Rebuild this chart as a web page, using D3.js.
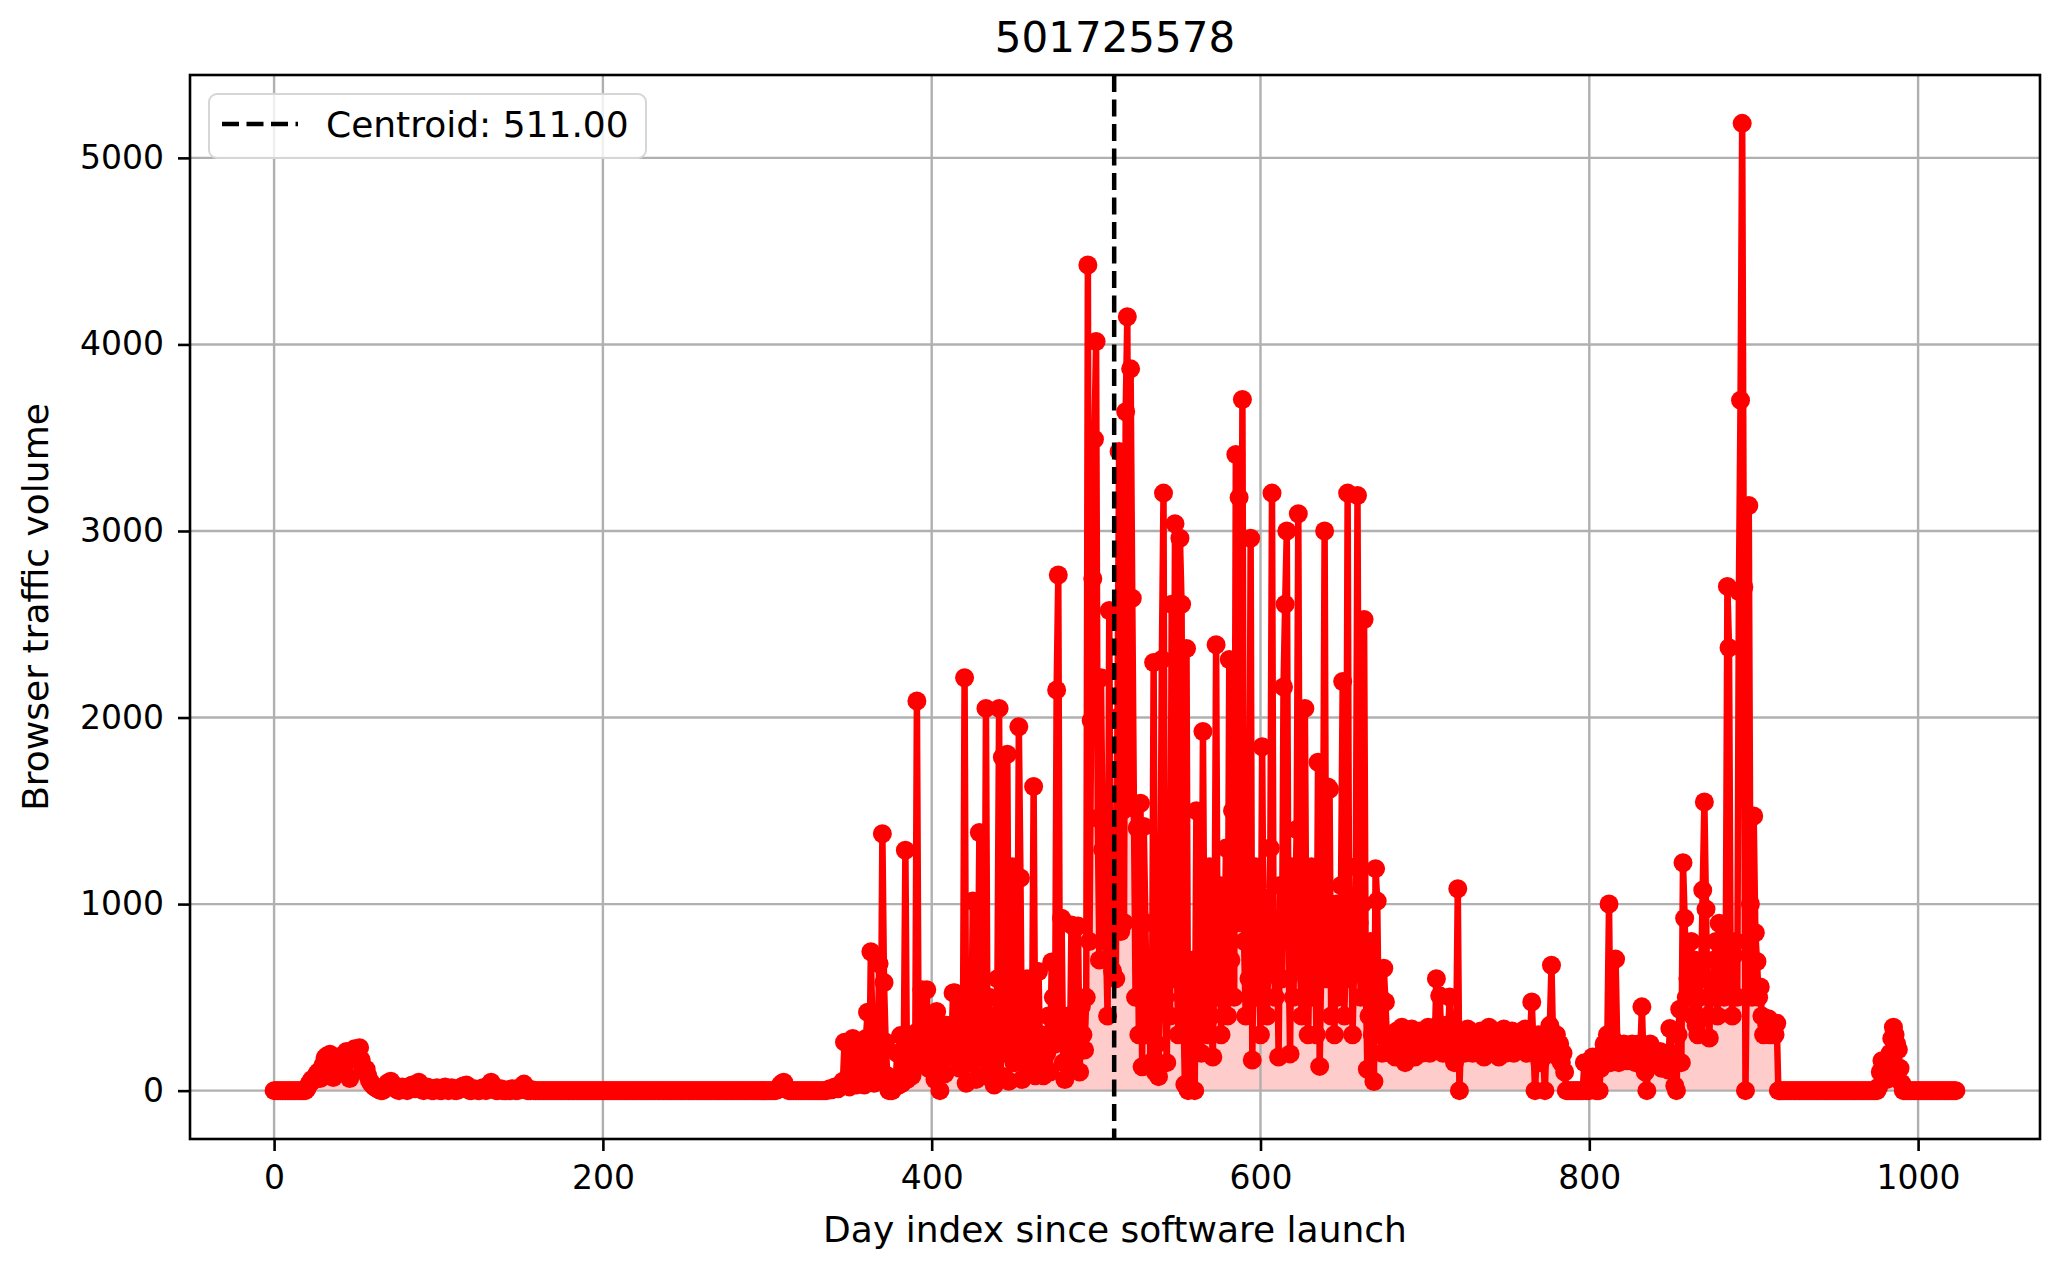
<!DOCTYPE html>
<html>
<head>
<meta charset="utf-8">
<script src="https://cdn.jsdelivr.net/npm/d3@7"></script>
<style>
  body { margin: 0; background: #fff; }
  text { font-family: "DejaVu Sans", sans-serif; }
</style>
</head>
<body>
<div id="chart"></div>
<script>
const chartTitle = "501725578"
const xLabel = "Day index since software launch"
const yLabel = "Browser traffic volume"
const centroidDay = 511
const legendLabel = "Centroid: 511.00"
const xTickValues = [0, 200, 400, 600, 800, 1000]
const yTickValues = [0, 1000, 2000, 3000, 4000, 5000]

// daily volumes, one row = 10 days
// days 0-159
const launchDays = [
  0,0,0,0,0,0,0,0,0,0,
  0,0,0,0,0,0,0,0,0,0,
  10,30,45,60,55,70,90,100,65,120,
  140,175,185,150,195,125,70,150,170,105,
  180,185,150,195,210,190,65,175,210,225,
  195,180,230,165,125,105,115,80,55,40,
  30,20,15,10,5,0,0,10,25,40,
  45,50,35,20,10,5,0,10,20,15,
  5,0,10,25,30,20,10,35,45,20,
  5,0,10,20,15,5,0,0,10,15,
  5,0,0,10,20,10,0,5,15,10,
  0,0,5,10,20,25,15,30,10,0,
  0,5,10,5,0,0,10,15,5,0,
  10,30,45,25,10,0,0,5,10,0,
  0,0,5,0,0,10,5,0,0,5,
  10,25,35,15,0,0,0,5,0,0
]
// days 160-339
const dormantDays = [
  0,0,0,0,0,0,0,0,0,0,
  0,0,0,0,0,0,0,0,0,0,
  0,0,0,0,0,0,0,0,0,0,
  0,0,0,0,0,0,0,0,0,0,
  0,0,0,0,0,0,0,0,0,0,
  0,0,0,0,0,0,0,0,0,0,
  0,0,0,0,0,0,0,0,0,0,
  0,0,0,0,0,0,0,0,0,0,
  0,0,0,0,0,0,0,0,0,0,
  0,0,0,0,0,0,0,0,0,0,
  0,0,0,0,0,0,0,0,0,0,
  0,0,0,0,0,0,0,0,0,0,
  0,0,0,0,0,0,0,0,0,0,
  0,0,0,0,0,0,0,0,0,0,
  0,0,0,0,0,0,5,15,30,40,
  45,25,10,0,0,0,0,0,0,0,
  0,0,0,0,0,0,0,0,0,0,
  0,0,0,0,0,0,0,5,10,5
]
// days 340-499
const rampUpDays = [
  10,20,15,10,25,30,50,260,35,50,
  20,250,279,60,30,240,260,40,255,30,
  280,420,60,744,300,40,260,150,680,120,
  1377,580,260,80,0,0,0,20,30,200,
  30,295,40,180,1289,60,250,300,80,150,
  200,2089,320,150,541,300,260,541,120,250,
  380,200,60,424,150,0,345,200,90,350,
  180,300,250,524,525,200,300,120,450,250,
  2213,40,300,350,150,1016,200,60,380,1384,
  250,300,80,2049,150,500,250,300,30,400,
  600,2049,80,1787,350,200,1803,50,300,1200,
  150,400,200,1951,1140,60,400,200,600,100,
  300,250,1630,80,200,638,150,300,80,250,
  200,400,100,690,500,250,2148,2764,300,924,
  150,60,250,400,120,888,300,880,200,882,
  100,450,300,218,500,4426,800,1984,2744,3492
]
// days 500-699
const peakDays = [
  4016,1460,700,2213,1291,1452,800,400,2574,900,
  641,1200,600,2000,3426,853,1500,900,3639,4148,
  1523,3869,2639,1514,500,1408,300,1541,128,1416,
  900,300,700,150,400,2295,100,250,75,800,
  2311,3203,500,150,1000,400,2607,600,3039,700,
  300,2961,2607,500,33,2370,0,600,400,700,
  0,1500,300,700,200,1925,540,900,300,1200,
  400,180,700,2390,500,1100,300,800,600,1300,
  400,2311,700,1500,500,3410,900,3180,1300,3705,
  800,400,1100,600,2961,164,900,1200,500,700,
  300,1843,600,1000,400,800,1300,3203,700,500,
  900,180,1100,600,2164,2607,3000,800,197,1200,
  500,900,1400,3092,700,400,1000,2049,600,300,
  800,1200,500,900,300,1760,130,700,1100,3000,
  600,1628,1616,400,900,300,1000,500,700,1100,
  2193,400,800,3203,600,1000,300,700,1200,3190,
  900,500,1000,2525,600,115,400,800,300,49,
  1190,1016,300,500,200,656,475,250,300,200,
  250,300,180,320,280,200,340,260,150,300,
  280,220,330,250,180,300,260,320,200,280
]
// days 700-859
const plateauDays = [
  300,250,340,200,280,310,250,600,350,508,
  280,200,300,350,250,502,200,300,150,250,
  1082,0,300,250,200,280,330,300,250,200,
  280,250,300,200,320,260,180,300,250,340,
  300,200,280,320,250,180,300,260,330,200,
  280,300,250,320,200,290,310,240,280,300,
  250,330,200,280,300,475,250,0,200,300,
  150,250,180,0,300,200,350,672,250,200,
  300,180,250,150,200,100,0,0,0,0,
  0,0,0,0,0,0,0,150,0,0,
  0,100,180,150,0,0,0,120,200,250,
  180,300,1000,150,280,200,705,250,150,200,
  180,250,200,160,220,180,250,200,150,180,
  250,200,449,150,100,0,200,250,180,150,
  200,180,150,210,120,180,200,150,110,333,
  200,150,26,0,300,436,150,1222,924,500
]
// days 860-919
const surgeDays = [
  600,500,800,400,700,350,300,500,600,1075,
  1547,973,400,282,600,500,700,800,400,897,
  600,800,500,700,2703,2374,600,400,726,800,
  500,2675,3701,5185,2700,0,800,3137,1000,500,
  1472,846,692,500,556,400,300,385,350,385,
  300,350,361,300,361,0,0,0,0,0
]
// days 920-1023
const tailDays = [
  0,0,0,0,0,0,0,0,0,0,
  0,0,0,0,0,0,0,0,0,0,
  0,0,0,0,0,0,0,0,0,0,
  0,0,0,0,0,0,0,0,0,0,
  0,0,0,0,0,0,0,0,0,0,
  0,0,0,0,0,0,20,100,160,150,
  164,60,120,200,280,340,300,250,220,120,
  40,0,0,0,0,0,0,0,0,0,
  0,0,0,0,0,0,0,0,0,0,
  0,0,0,0,0,0,0,0,0,0,
  0,0,0,0
]

const traffic = [].concat(launchDays, dormantDays, rampUpDays, peakDays, plateauDays, surgeDays, tailDays)
const points = traffic.map((v, i) => ({day: i, value: v}))

const width = 2057
const height = 1271
const plot = {left: 190, right: 2040, top: 75, bottom: 1139}

const n = traffic.length
const xPad = (n - 1) * 0.05
const yMax = d3.max(traffic)
const x = d3.scaleLinear().domain([-xPad, n - 1 + xPad]).range([plot.left, plot.right])
const y = d3.scaleLinear().domain([-yMax * 0.05, yMax * 1.05]).range([plot.bottom, plot.top])

const svg = d3.select("#chart")
  .append("svg")
    .attr("width", width)
    .attr("height", height)

svg.append("defs").append("clipPath").attr("id", "clip")
  .append("rect")
    .attr("x", plot.left).attr("y", plot.top)
    .attr("width", plot.right - plot.left).attr("height", plot.bottom - plot.top)

const body = svg.append("g").attr("clip-path", "url(#clip)")

// shaded area under the curve
body.append("path")
  .datum(points)
  .attr("d", d3.area().x(d => x(d.day)).y0(y(0)).y1(d => y(d.value)))
  .attr("fill", "#ff0000")
  .attr("fill-opacity", 0.2)

// grid
body.append("g")
  .selectAll("line")
  .data(xTickValues)
  .enter()
  .append("line")
    .attr("x1", d => x(d)).attr("x2", d => x(d))
    .attr("y1", plot.top).attr("y2", plot.bottom)
    .attr("stroke", "#b0b0b0").attr("stroke-width", 2.4)
body.append("g")
  .selectAll("line")
  .data(yTickValues)
  .enter()
  .append("line")
    .attr("x1", plot.left).attr("x2", plot.right)
    .attr("y1", d => y(d)).attr("y2", d => y(d))
    .attr("stroke", "#b0b0b0").attr("stroke-width", 2.4)

// series
body.append("path")
  .datum(points)
  .attr("d", d3.line().x(d => x(d.day)).y(d => y(d.value)))
  .attr("fill", "none")
  .attr("stroke", "#ff0000")
  .attr("stroke-width", 6.5)
  .attr("stroke-linejoin", "round")

body.append("g")
  .selectAll("circle")
  .data(points)
  .enter()
  .append("circle")
    .attr("cx", d => x(d.day))
    .attr("cy", d => y(d.value))
    .attr("r", 9.5)
    .attr("fill", "#ff0000")

// centroid
body.append("line")
  .attr("x1", x(centroidDay)).attr("x2", x(centroidDay))
  .attr("y1", plot.top).attr("y2", plot.bottom)
  .attr("stroke", "#000")
  .attr("stroke-width", 4.5)
  .attr("stroke-dasharray", "17,7.5")

// frame
svg.append("rect")
  .attr("x", plot.left).attr("y", plot.top)
  .attr("width", plot.right - plot.left).attr("height", plot.bottom - plot.top)
  .attr("fill", "none")
  .attr("stroke", "#000")
  .attr("stroke-width", 2.6)

// axes
const xAxis = svg.append("g")
  .attr("transform", "translate(0," + plot.bottom + ")")
  .call(d3.axisBottom(x).tickValues(xTickValues).tickSize(12).tickPadding(15).tickFormat(d3.format("d")))
xAxis.select(".domain").remove()

const yAxis = svg.append("g")
  .attr("transform", "translate(" + plot.left + ",0)")
  .call(d3.axisLeft(y).tickValues(yTickValues).tickSize(12).tickPadding(14).tickFormat(d3.format("d")))
yAxis.select(".domain").remove()

svg.selectAll(".tick line").attr("stroke", "#000").attr("stroke-width", 2.6)
svg.selectAll(".tick text")
  .attr("fill", "#000")
  .style("font-family", "DejaVu Sans, sans-serif")
  .style("font-size", "33px")

// labels
svg.append("text")
  .attr("x", (plot.left + plot.right) / 2)
  .attr("y", 52)
  .attr("text-anchor", "middle")
  .style("font-size", "42px")
  .text(chartTitle)

svg.append("text")
  .attr("x", (plot.left + plot.right) / 2)
  .attr("y", 1242)
  .attr("text-anchor", "middle")
  .style("font-size", "36px")
  .text(xLabel)

svg.append("text")
  .attr("transform", "translate(48," + (plot.top + plot.bottom) / 2 + ") rotate(-90)")
  .attr("text-anchor", "middle")
  .style("font-size", "36px")
  .text(yLabel)

// legend
const legend = svg.append("g")
legend.append("rect")
  .attr("x", 209).attr("y", 94)
  .attr("width", 437).attr("height", 64)
  .attr("rx", 8)
  .attr("fill", "#fff").attr("fill-opacity", 0.8)
  .attr("stroke", "#d6d6d6").attr("stroke-width", 2)
legend.append("line")
  .attr("x1", 222).attr("x2", 298)
  .attr("y1", 124).attr("y2", 124)
  .attr("stroke", "#000")
  .attr("stroke-width", 4.5)
  .attr("stroke-dasharray", "17,7.5")
legend.append("text")
  .attr("x", 326).attr("y", 137)
  .style("font-size", "36px")
  .text(legendLabel)
</script>
</body>
</html>
